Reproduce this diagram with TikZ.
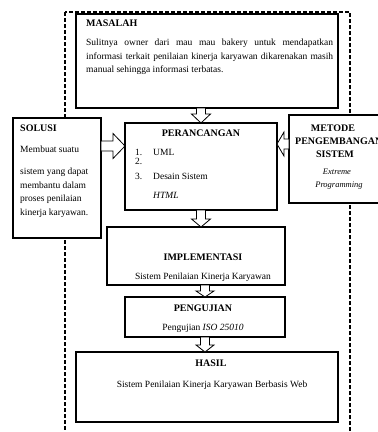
\documentclass[tikz,border=0pt]{standalone}
\usepackage{fontspec}
\setmainfont{Liberation Serif}
\usetikzlibrary{calc}

\tikzset{
  kotak/.style={draw, line width=1.2pt, fill=white, inner sep=0pt, outer sep=0pt},
  judul/.style={font=\fontsize{10}{12}\selectfont\bfseries, inner sep=0pt, anchor=base},
  teks/.style={font=\fontsize{9.5}{13.5}\selectfont, inner sep=0pt, anchor=base},
  garis putus/.style={line width=1.4pt, dash pattern=on 4pt off 2pt},
  panah/.style n args={3}{draw, fill=white, line width=0.8pt, to path={
    coordinate (pa) (\tikztotarget) coordinate (pb) ($(pb)!#1!(pa)$) coordinate (pc)
    ($(pa)!#2!90:(pb)$) -- ($(pc)!#2!90:(pb)$) -- ($(pc)!#3!90:(pb)$) -- (pb)
    -- ($(pc)!#3!-90:(pb)$) -- ($(pc)!#2!-90:(pb)$) -- ($(pa)!#2!-90:(pb)$) -- cycle}}
}

\begin{document}
\begin{tikzpicture}[x=1pt, y=-1pt]
			\useasboundingbox (0,0) rectangle (378,432);
			\clip (0,0) rectangle (378,432);

			\draw[garis putus] (65,12) rectangle (350,445);

			\node[kotak, minimum width=262pt, minimum height=94pt] (masalah) at (207,61) {};
			\node[kotak, minimum width=88pt, minimum height=120pt] (solusi) at (57,178) {};
			\node[kotak, minimum width=152pt, minimum height=87pt] (perancangan) at (201,166.5) {};
			\node[kotak, minimum width=103pt, minimum height=88pt] (metode) at (340.5,159) {};
			\node[kotak, minimum width=178pt, minimum height=58pt] (implementasi) at (196,256) {};
			\node[kotak, minimum width=160pt, minimum height=40pt] (pengujian) at (205,317) {};
			\node[kotak, minimum width=262pt, minimum height=70pt] (hasil) at (207,387) {};

			% masalah
			\node[judul, anchor=base west] (masalah-judul) at (86,26) {MASALAH};
			\node[teks, anchor=north west, align=left] (masalah-isi) at (86,39)
				{\makebox[247pt][s]{Sulitnya owner dari mau mau bakery untuk mendapatkan}\\
				 \makebox[247pt][s]{informasi terkait penilaian kinerja karyawan dikarenakan masih}\\
				 manual sehingga informasi terbatas.};

			% solusi
			\node[judul, anchor=base west] (solusi-judul) at (20,131) {SOLUSI};
			\node[teks, anchor=north west, align=left] (solusi-isi) at (20,146)
				{Membuat suatu\\[8.5pt] sistem yang dapat\\ membantu dalam\\ proses penilaian\\ kinerja karyawan.};

			% perancangan
			\node[judul] (perancangan-judul) at (201,136) {PERANCANGAN};
			\foreach \n/\y in {1/155.5, 2/164.5, 3/179.5}
			\node[teks, anchor=base west] (no\n) at (135,\y) {\n.};
			\node[teks, anchor=base west] (uml) at (153,155.5) {UML};
			\node[teks, anchor=base west] (desain) at (153,179.5) {Desain Sistem};
			\node[teks, anchor=base west] (html) at (153,198) {\textit{HTML}};

			% metode
			\node[judul] (metode-1) at (333,131) {METODE};
			\node[judul, anchor=base west] (metode-2) at (295,144) {PENGEMBANGAN};
			\node[judul] (metode-3) at (335,157) {SISTEM};
			\node[teks, font=\fontsize{8.5}{10}\selectfont\itshape] (xp-1) at (337,174.5) {Extreme};
			\node[teks, font=\fontsize{8.5}{10}\selectfont\itshape] (xp-2) at (339,187.5) {Programming};

			% implementasi, pengujian, hasil
			\node[judul] (implementasi-judul) at (203,260) {IMPLEMENTASI};
			\node[teks] (implementasi-isi) at (203,279.5) {Sistem Penilaian Kinerja Karyawan};
			\node[judul] (pengujian-judul) at (203,311) {PENGUJIAN};
			\node[teks] (pengujian-isi) at (203,330.5) {Pengujian \textit{ISO 25010}};
			\node[judul] (hasil-judul) at (211,366) {HASIL};
			\node[teks] (hasil-isi) at (212,387.5) {Sistem Penilaian Kinerja Karyawan Berbasis Web};

			% panah
			\coordinate (masuk-kiri) at ([yshift=20.5pt]perancangan.west);
			\coordinate (masuk-kanan) at ([yshift=22.5pt]perancangan.east);

			\draw[panah={9pt}{4.5pt}{9.5pt}] (perancangan.north |- masalah.south) to (perancangan.north);
			\draw[panah={8pt}{4.5pt}{9.5pt}] (perancangan.south) to (perancangan.south |- implementasi.north);
			\draw[panah={6pt}{4.5pt}{9pt}] (pengujian.north |- implementasi.south) to (pengujian.north);
			\draw[panah={7pt}{4.5pt}{9pt}] (pengujian.south) to (pengujian.south |- hasil.north);
			\draw[panah={12pt}{5pt}{12.5pt}] (masuk-kiri -| solusi.east) to (masuk-kiri);
			\draw[panah={7pt}{5pt}{12pt}] (masuk-kanan -| metode.west) to (masuk-kanan);
		\end{tikzpicture}
\end{document}
